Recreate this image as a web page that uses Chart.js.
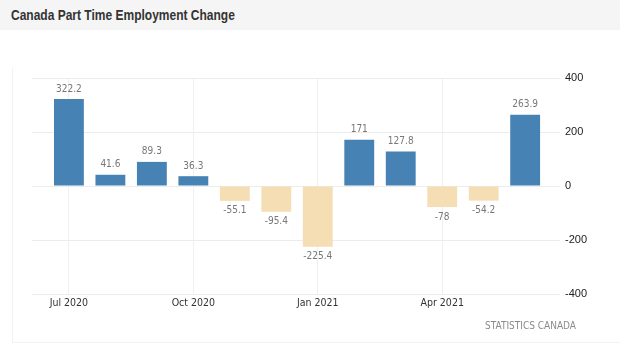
<!DOCTYPE html>
<html>
<head>
<meta charset="utf-8">
<script src="https://cdn.jsdelivr.net/npm/chart.js@4.4.1/dist/chart.umd.min.js"></script>
<style>
  body { margin: 0; background: #fff; width: 620px; height: 350px; overflow: hidden; position: relative; }
  .header { position: absolute; left: 0; top: 0; width: 620px; height: 30px; background: #f5f5f5; }
  .header h1 { margin: 0; position: absolute; left: 11px; top: 6px; font: bold 15px "Liberation Sans", Arial, sans-serif; color: #333; transform: scaleX(0.8); transform-origin: left top; white-space: nowrap; }
  .frame { position: absolute; left: 12px; top: 67px; width: 620px; height: 276px; border-left: 1px solid #f3f3f3; border-bottom: 1px solid #f3f3f3; box-sizing: border-box; }
  .wrap { position: absolute; left: 0; top: 30px; width: 620px; height: 320px; }
  .source { position: absolute; right: 44px; top: 320px; font: 10px "DejaVu Sans Condensed", "DejaVu Sans", sans-serif; color: #8a8a8a; }
</style>
</head>
<body>
<div class="header"><h1>Canada Part Time Employment Change</h1></div>
<div class="frame"></div>
<div class="wrap"><canvas id="chart"></canvas></div>
<div class="source">STATISTICS CANADA</div>
<script>
const months = ['Jul 2020', 'Aug 2020', 'Sep 2020', 'Oct 2020', 'Nov 2020', 'Dec 2020',
                'Jan 2021', 'Feb 2021', 'Mar 2021', 'Apr 2021', 'May 2021', 'Jun 2021'];
const changes = [322.2, 41.6, 89.3, 36.3, -55.1, -95.4, -225.4, 171, 127.8, -78, -54.2, 263.9];
const shownMonths = [0, 3, 6, 9];
const yTicks = [400, 200, 0, -200, -400];

const UP = '#4682b4';
const DOWN = '#f5deb3';

const valueLabels = {
    id: 'valueLabels',
    afterDatasetsDraw(chart) {
        const c = chart.ctx;
        c.save();
        c.font = '10px "DejaVu Sans Condensed", "DejaVu Sans", sans-serif';
        c.fillStyle = '#777';
        c.textAlign = 'center';
        c.textBaseline = 'middle';
        chart.getDatasetMeta(0).data.forEach((bar, i) => {
            const v = changes[i];
            c.fillText(String(v), bar.x, v >= 0 ? bar.y - 10 : bar.y + 10);
        });
        c.restore();
    }
};

new Chart(document.getElementById('chart'), {
    type: 'bar',
    data: {
        datasets: [{
            data: changes.map((v, i) => ({ x: i, y: v })),
            backgroundColor: changes.map(v => v >= 0 ? UP : DOWN),
            barPercentage: 0.72,
            categoryPercentage: 1
        }]
    },
    options: {
        responsive: true,
        maintainAspectRatio: false,
        animation: false,
        layout: { padding: { left: 32, right: 20, top: 48, bottom: 36 } },
        plugins: { legend: { display: false }, tooltip: { enabled: false } },
        scales: {
            x: {
                type: 'linear',
                offset: false,
                min: -0.89,
                max: 11.84,
                afterBuildTicks: s => { s.ticks = shownMonths.map(v => ({ value: v })); },
                afterFit: s => { s.height = 20; },
                ticks: {
                    callback: v => months[v],
                    autoSkip: false,
                    maxRotation: 0,
                    padding: 3,
                    color: '#333',
                    font: { family: '"DejaVu Sans Condensed", "DejaVu Sans", sans-serif', size: 10.5 }
                },
                grid: { color: '#f0f0f0', drawTicks: false, offset: false },
                border: { display: false }
            },
            y: {
                position: 'right',
                min: -400,
                max: 400,
                afterBuildTicks: s => { s.ticks = yTicks.map(v => ({ value: v })); },
                afterFit: s => { s.width = 40; },
                ticks: {
                    padding: 5,
                    color: '#222',
                    font: { family: '"Liberation Sans", Arial, sans-serif', size: 11 }
                },
                grid: { color: '#ececec', drawTicks: false },
                border: { display: false }
            }
        }
    },
    plugins: [valueLabels]
});
</script>
</body>
</html>
